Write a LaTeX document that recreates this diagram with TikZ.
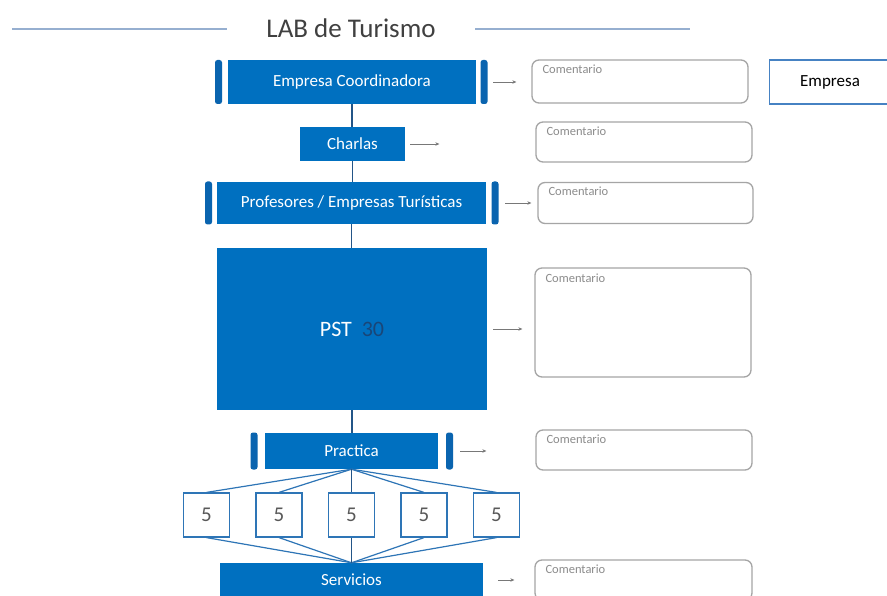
\documentclass[tikz,border=0pt]{standalone}
\usepackage{fontspec}
\setmainfont{Carlito}
\usetikzlibrary{arrows.meta,calc}
\definecolor{mblue}{RGB}{0,112,192}
\definecolor{barblue}{RGB}{10,100,175}
\definecolor{spineblue}{RGB}{35,85,135}
\definecolor{fanblue}{RGB}{46,117,182}
\definecolor{empblue}{RGB}{70,130,195}
\definecolor{cgrey}{RGB}{165,165,165}
\definecolor{ctext}{RGB}{140,140,140}
\definecolor{titlegrey}{RGB}{64,64,64}
\definecolor{titleline}{RGB}{150,175,208}
\definecolor{arrgrey}{RGB}{120,120,120}
\definecolor{darknum}{RGB}{25,70,120}
\tikzset{
  bluebox/.style={fill=mblue, draw=none, text=white, inner sep=0pt, font=\fontsize{17}{20}\selectfont},
  sidebar/.style={fill=barblue, draw=none, rounded corners=2.5pt, minimum width=7pt, inner sep=0pt},
  combox/.style={draw=cgrey, line width=1.3pt, rounded corners=7pt, fill=white, inner sep=0pt, minimum width=216pt},
  comlabel/.style={text=ctext, inner sep=0pt, anchor=north west, font=\fontsize{12.5}{14}\selectfont},
  fivebox/.style={draw=fanblue, line width=1.2pt, fill=white, minimum width=46pt, minimum height=44pt, inner sep=0pt, text={rgb,255:red,89;green,89;blue,89}, font=\fontsize{21}{24}\selectfont},
  arr/.style={draw=arrgrey, line width=0.8pt, -{Stealth[length=4pt,width=3.5pt]}},
  spine/.style={draw=spineblue, line width=1.5pt},
  fan/.style={draw=fanblue, line width=1.2pt},
  tline/.style={draw=titleline, line width=2pt}
}
\begin{document}
\begin{tikzpicture}[x=1pt,y=-1pt]
\clip (0,0) rectangle (887,596);
\fill[white] (0,0) rectangle (887,596);

% title
\node[text=titlegrey, inner sep=0pt, font=\fontsize{27}{30}\selectfont] (title) at (351,28) {LAB de Turismo};
\coordinate (tl1) at (12,29);
\coordinate (tl2) at (227,29);
\coordinate (tr1) at (475,29);
\coordinate (tr2) at (690,29);
\draw[tline] (tl1) -- (tl2);
\draw[tline] (tr1) -- (tr2);

% Empresa Coordinadora
\node[bluebox, minimum width=248pt, minimum height=44pt] (ec) at (352,82) {Empresa Coordinadora};
\node[sidebar, minimum height=44pt] (ecL) at (218.5,82) {};
\node[sidebar, minimum height=44pt] (ecR) at (484,82) {};
\node[combox, minimum height=43pt] (com1) at (640,81.5) {};
\node[comlabel] (com1t) at ($(com1.north west)+(11,5)$) {Comentario};
\node[draw=empblue, line width=1.8pt, fill=white, minimum width=121pt, minimum height=44pt, inner sep=0pt, font=\fontsize{17}{20}\selectfont] (emp) at (830,82) {Empresa};
\draw[arr, shorten <=5.5pt, shorten >=15pt] (ecR.east) -- (ecR.east -| com1.west);

% Charlas
\node[bluebox, minimum width=105pt, minimum height=34pt] (ch) at (352.5,144) {Charlas};
\node[combox, minimum height=40pt] (com2) at (644,142) {};
\node[comlabel] (com2t) at ($(com2.north west)+(11,5)$) {Comentario};
\draw[arr, shorten <=5pt, shorten >=96pt] (ch.east) -- (ch.east -| com2.west);

% Profesores
\node[bluebox, minimum width=269pt, minimum height=42pt] (pr) at (351.5,203) {Profesores / Empresas Turísticas};
\node[sidebar, minimum height=43pt] (prL) at (208.5,203) {};
\node[sidebar, minimum height=43pt] (prR) at (495,203) {};
\node[combox, minimum height=41pt, minimum width=215pt] (com3) at (645.5,203) {};
\node[comlabel] (com3t) at ($(com3.north west)+(11,5)$) {Comentario};
\draw[arr, shorten <=6.5pt, shorten >=6pt] (prR.east) -- (prR.east -| com3.west);

% PST
\node[bluebox, minimum width=270pt, minimum height=162pt, font=\fontsize{22}{26}\selectfont] (pst) at (352,329) {PST\hspace{0.45em}{\color{darknum}30}};
\node[combox, minimum height=109pt] (com4) at (643,322.5) {};
\node[comlabel] (com4t) at ($(com4.north west)+(11,6)$) {Comentario};
\draw[arr, shorten <=6pt, shorten >=12pt] (pst.east) -- (pst.east -| com4.west);

% Practica
\node[bluebox, minimum width=173pt, minimum height=36pt] (pra) at (351.5,451) {Practica};
\node[sidebar, minimum height=37pt] (praL) at (254,451) {};
\node[sidebar, minimum height=37pt] (praR) at (449.5,451) {};
\node[combox, minimum height=40pt] (com5) at (644,450) {};
\node[comlabel] (com5t) at ($(com5.north west)+(11,5)$) {Comentario};
\draw[arr, shorten <=7pt, shorten >=49pt] (praR.east) -- (praR.east -| com5.west);

% Servicios
\node[bluebox, minimum width=263pt, minimum height=34pt] (sv) at (351.5,580) {Servicios};
\node[combox, minimum height=40pt, minimum width=217pt] (com6) at (643.5,580) {};
\node[comlabel] (com6t) at ($(com6.north west)+(11,5)$) {Comentario};
\draw[arr, shorten <=15pt, shorten >=20pt] (sv.east) -- (sv.east -| com6.west);

% five boxes
\node[fivebox] (f1) at (206.5,515) {5};
\node[fivebox] (f2) at (279,515) {5};
\node[fivebox] (f3) at (351.5,515) {5};
\node[fivebox] (f4) at (424,515) {5};
\node[fivebox] (f5) at (496.5,515) {5};

% spine
\draw[spine] (ec.south) -- (ec.south |- ch.north);
\draw[spine] (ch.south) -- (ch.south |- pr.north);
\draw[spine] (pr.south) -- (pr.south |- pst.north);
\draw[spine] (pst.south) -- (pst.south |- pra.north);

% fan lines
\foreach \i in {1,2,4,5} {
  \draw[fan] (pra.south) -- (f\i.north);
  \draw[fan] (f\i.south) -- (sv.north);
}
\draw[spine] (pra.south) -- (f3.north);
\draw[spine] (f3.south) -- (sv.north);
\end{tikzpicture}
\end{document}
